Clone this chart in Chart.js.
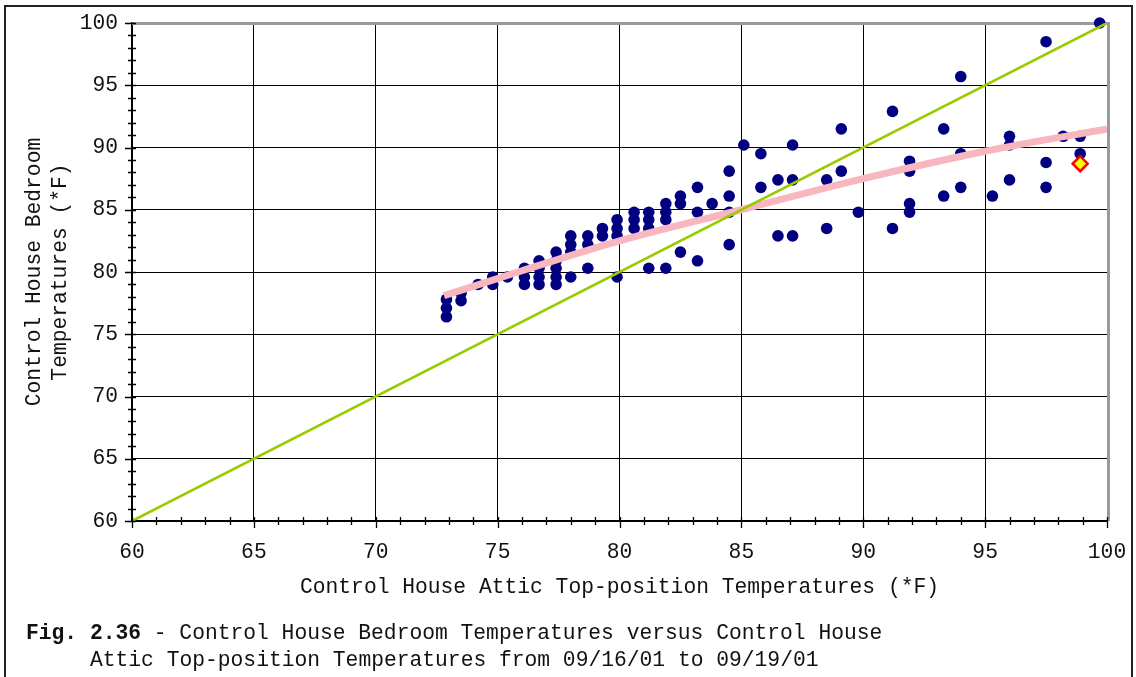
<!DOCTYPE html>
<html><head><meta charset="utf-8">
<script src="https://cdn.jsdelivr.net/npm/chart.js@4.4.1/dist/chart.umd.min.js"></script>
<style>
html,body{margin:0;padding:0;background:#fff;}
#wrap{position:relative;width:1136px;height:677px;overflow:hidden;background:#fff;}
#frame{position:absolute;left:4px;top:5px;width:1129px;height:720px;border:2px solid #222;box-sizing:border-box;}
canvas{position:absolute;left:0;top:0;}
.cap{position:absolute;font-family:'Liberation Mono','Courier New',monospace;font-size:21.3px;line-height:24px;color:#111;white-space:pre;}
</style></head><body>
<div id="wrap">
<div id="frame"></div>
<canvas id="c" width="1136" height="677"></canvas>
<div class="cap" style="left:26px;top:621px"><b>Fig. 2.36</b> - Control House Bedroom Temperatures versus Control House</div>
<div class="cap" style="left:90px;top:648px">Attic Top-position Temperatures from 09/16/01 to 09/19/01</div>
</div>
<script>
// Attic top-position temperature (x) and bedroom temperature (y), degrees F
const atticTemps = [
  72.9,72.9,72.9, 73.5,73.5, 74.2, 74.8,74.8, 75.4, 76.1,76.1,76.1,
  76.7,76.7,76.7,76.7, 77.4,77.4,77.4,77.4,77.4, 78.0,78.0,78.0,78.0,
  78.7,78.7,78.7, 79.3,79.3, 79.9,79.9,79.9,79.9, 80.6,80.6,80.6,
  81.2,81.2,81.2,81.2, 81.9,81.9,81.9,81.9, 82.5,82.5,82.5, 83.2,83.2,83.2,
  83.8, 84.5,84.5,84.5,84.5, 85.1, 85.8,85.8, 86.5,86.5, 87.1,87.1,87.1,
  88.5,88.5, 89.1,89.1, 89.8, 91.2,91.2, 91.9,91.9,91.9,91.9, 93.3,93.3,
  94.0,94.0,94.0, 95.3, 96.0,96.0,96.0, 97.5,97.5,97.5, 98.2, 98.9,98.9, 99.7
];
const bedroomTemps = [
  77.8,77.1,76.4, 78.3,77.7, 79.0, 79.6,79.0, 79.6, 80.3,79.6,79.0,
  80.9,80.3,79.6,79.0, 81.6,80.9,80.3,79.6,79.0, 82.9,82.2,81.6,79.6,
  82.9,82.2,80.3, 83.5,82.9, 84.2,83.5,82.9,79.6, 84.8,84.2,83.5,
  84.8,84.2,83.5,80.3, 85.5,84.8,84.2,80.3, 86.1,85.5,81.6, 86.8,84.8,80.9,
  85.5, 88.1,86.1,84.8,82.2, 90.2, 89.5,86.8, 87.4,82.9, 90.2,87.4,82.9,
  87.4,83.5, 91.5,88.1, 84.8, 92.9,83.5, 88.9,88.1,85.5,84.8, 91.5,86.1,
  95.7,89.5,86.8, 86.1, 90.9,90.2,87.4, 98.5,88.8,86.8, 90.9, 90.9,89.5, 100.0
];
// Trend line
const trendAttic = [72.8, 76, 80, 85, 90, 95, 100];
const trendBedroom = [78.1, 80.1, 82.5, 85.0, 87.5, 89.7, 91.5];
// Equality line (y = x)
const equalAttic = [60, 100];
const equalBedroom = [60, 100];
// Highlighted point
const highlightAttic = [98.9];
const highlightBedroom = [88.7];
// Axis ticks
const xTickValues = [60, 65, 70, 75, 80, 85, 90, 95, 100];
const yTickValues = [60, 65, 70, 75, 80, 85, 90, 95, 100];

const zip = (xs, ys) => xs.map((x, i) => ({x: x, y: ys[i]}));
const FONT = "'Liberation Mono','Courier New',monospace";

const decorPlugin = {
  id: 'decor',
  beforeDatasetsDraw(chart) {
    const {ctx, chartArea: a} = chart;
    ctx.save();
    ctx.strokeStyle = '#9a9a9a';
    ctx.lineWidth = 3;
    ctx.beginPath();
    ctx.moveTo(a.left, a.top + 0.5);
    ctx.lineTo(a.right + 1.5, a.top + 0.5);
    ctx.lineTo(a.right + 1.5, a.bottom);
    ctx.stroke();
    ctx.restore();
  },
  afterDraw(chart) {
    const {ctx, chartArea: a} = chart;
    const xs = chart.scales.x, ys = chart.scales.y;
    ctx.save();
    ctx.strokeStyle = '#000';
    ctx.lineWidth = 1.3;
    ctx.beginPath();
    for (let v = xs.min; v <= xs.max; v += 1) {
      const p = Math.round(xs.getPixelForValue(v)) + 0.5;
      const major = xTickValues.includes(v);
      ctx.moveTo(p, a.bottom - 4);
      ctx.lineTo(p, a.bottom + (major ? 7 : 4));
    }
    for (let v = ys.min; v <= ys.max; v += 1) {
      const p = Math.round(ys.getPixelForValue(v)) + 0.5;
      const major = yTickValues.includes(v);
      ctx.moveTo(a.left + 4, p);
      ctx.lineTo(a.left - (major ? 7 : 4), p);
    }
    ctx.stroke();
    ctx.restore();
  }
};

new Chart(document.getElementById('c'), {
  type: 'scatter',
  data: {
    datasets: [
      {
        label: 'Bedroom vs attic',
        data: zip(atticTemps, bedroomTemps),
        backgroundColor: '#000080',
        borderColor: '#000080',
        borderWidth: 0,
        pointRadius: 5.8,
        pointHoverRadius: 5.8,
        clip: false,
        order: 4
      },
      {
        label: 'Trend',
        type: 'line',
        data: zip(trendAttic, trendBedroom),
        borderColor: '#f8b6be',
        borderWidth: 7,
        pointRadius: 0,
        tension: 0.4,
        cubicInterpolationMode: 'monotone',
        fill: false,
        order: 3
      },
      {
        label: 'Equality',
        type: 'line',
        data: zip(equalAttic, equalBedroom),
        borderColor: '#99cc00',
        borderWidth: 2.6,
        pointRadius: 0,
        fill: false,
        order: 2
      },
      {
        label: 'Highlight',
        data: zip(highlightAttic, highlightBedroom),
        pointStyle: 'rectRot',
        pointRadius: 7.5,
        pointHoverRadius: 7.5,
        backgroundColor: '#ffff00',
        borderColor: '#ff0000',
        borderWidth: 2.5,
        clip: false,
        order: 1
      }
    ]
  },
  options: {
    responsive: false,
    animation: false,
    devicePixelRatio: 1,
    events: [],
    layout: {padding: {top: 23, right: 29, bottom: 76, left: 0}},
    plugins: {legend: {display: false}, tooltip: {enabled: false}},
    scales: {
      x: {
        type: 'linear', min: 60, max: 100,
        afterFit: (s) => { s.height = 80; s.paddingLeft = 0; s.paddingRight = 0; },
        afterBuildTicks: (s) => { s.ticks = xTickValues.map(v => ({value: v})); },
        border: {display: true, color: '#000', width: 2},
        grid: {color: '#000', lineWidth: 1, drawTicks: false},
        ticks: {color: '#111', padding: 19, font: {family: FONT, size: 21.3}, maxRotation: 0, autoSkip: false},
        title: {display: true, text: 'Control House Attic Top-position Temperatures (*F)', color: '#111',
                font: {family: FONT, size: 21.3}, padding: {top: 0, bottom: 1}}
      },
      y: {
        type: 'linear', min: 60, max: 100,
        afterFit: (s) => { s.width = 132; s.paddingTop = 0; s.paddingBottom = 0; },
        afterBuildTicks: (s) => { s.ticks = yTickValues.map(v => ({value: v})); },
        border: {display: true, color: '#000', width: 2},
        grid: {color: '#000', lineWidth: 1, drawTicks: false},
        ticks: {color: '#111', padding: 14, font: {family: FONT, size: 21.3}, autoSkip: false},
        title: {display: true, text: ['Control House Bedroom', 'Temperatures (*F)'], color: '#111',
                font: {family: FONT, size: 21.3, lineHeight: 1.2}, padding: {top: 22, bottom: 0}}
      }
    }
  },
  plugins: [decorPlugin]
});
</script>
</body></html>
